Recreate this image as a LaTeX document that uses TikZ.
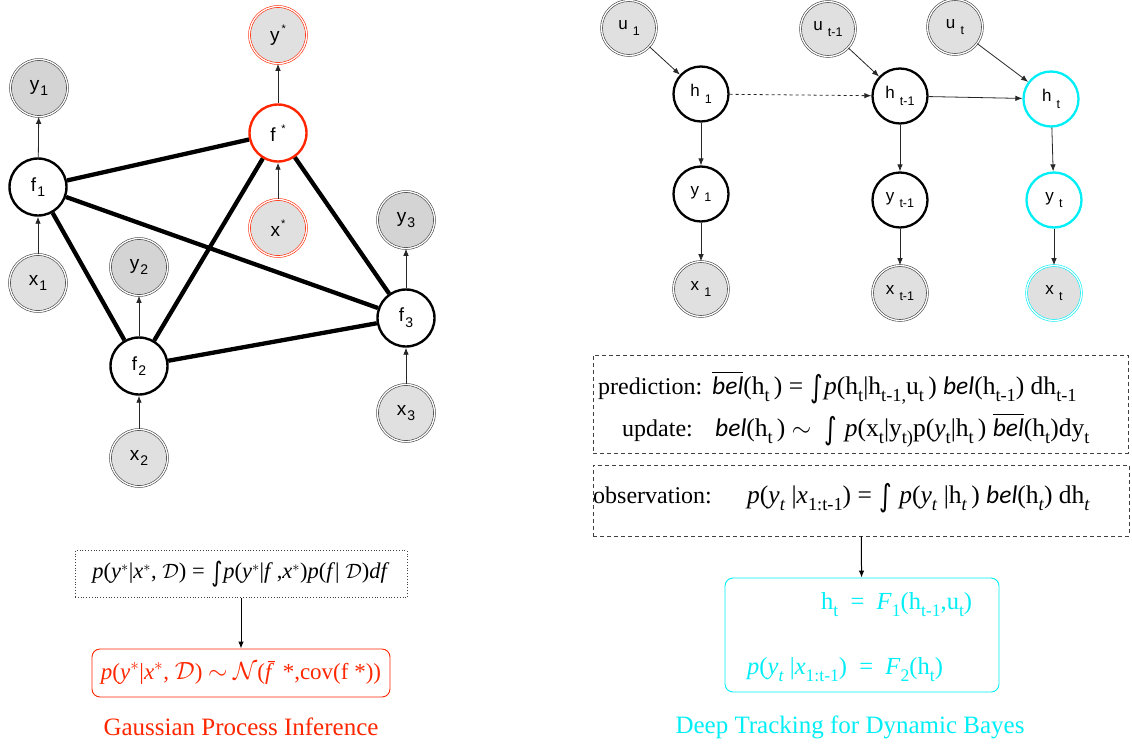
\documentclass[tikz,border=0pt]{standalone}
\usepackage{exscale}
\usepackage{fontspec}
\usepackage{graphicx}
\setmainfont{Liberation Serif}
\setsansfont{Liberation Sans}
\newfontfamily\belfont{Carlito}
\newfontfamily\intfont{DejaVu Sans}
\usetikzlibrary{arrows.meta}
\definecolor{gpred}{RGB}{255,38,0}
\definecolor{dcy}{RGB}{0,238,245}
\newcommand{\lL}[2]{#1\hspace{0.06em}\raisebox{-0.3em}{\fontsize{14}{14}\selectfont #2}}
\newcommand{\lR}[2]{#1\hspace{0.3em}\raisebox{-0.38em}{\fontsize{12.5}{12.5}\selectfont #2}}
\newcommand{\st}[2]{#1\hspace{#2}\raisebox{0.45em}{\fontsize{11}{11}\selectfont *}}
\newcommand{\sbs}[1]{\raisebox{-0.3em}{\scalebox{0.72}{#1}}}
\newcommand{\vi}[1]{\textit{#1}}
\newcommand{\bl}{{\belfont\itshape bel}}
\newcommand{\obl}{$\overline{\hbox{\belfont\itshape bel}}$}
\newcommand{\intg}{\hspace{0.04em}\raisebox{-0.12em}{\scalebox{0.95}[1.2]{\intfont ∫}}\hspace{0.04em}}
\begin{document}
\begin{tikzpicture}[x=1pt,y=-1pt,
  lab/.style={font=\sffamily\fontsize{19}{19}\selectfont},
  labr/.style={font=\sffamily\fontsize{17}{17}\selectfont},
  lat/.style={lab,circle,draw=black,line width=2.4pt,fill=white,minimum size=57pt,inner sep=0pt},
  obsx/.style={lab,circle,draw=black!75,double=white,double distance=1.3pt,line width=0.6pt,fill=gray!24,minimum size=57pt,inner sep=0pt},
  obsy/.style={obsx,fill=gray!34},
  redlat/.style={lat,draw=gpred},
  redobs/.style={obsx,draw=gpred},
  rlat/.style={labr,circle,draw=black,line width=2.3pt,fill=white,minimum size=55pt,inner sep=0pt},
  robs/.style={labr,circle,draw=black!75,double=white,double distance=1.3pt,line width=0.6pt,fill=gray!24,minimum size=55pt,inner sep=0pt},
  cylat/.style={rlat,draw=dcy},
  cyobs/.style={robs,draw=dcy},
  arr/.style={-{Latex[length=7pt,width=5.5pt]},line width=0.8pt,draw=black!85},
  edg/.style={line width=4.3pt},
  ftxt/.style={font=\rmfamily\fontsize{24}{24}\selectfont,inner sep=0pt,anchor=base west},
  fml/.style={ftxt,font=\rmfamily\fontsize{25.5}{25.5}\selectfont},
  dbox/.style={draw=black!75,dash pattern=on 4pt off 3pt,line width=0.8pt,inner sep=0pt},
]
\useasboundingbox (0,0) rectangle (1132,747);
% ---------- Gaussian process graph ----------
\node[obsy] (y1) at (39,88) {\lL{y}{1}};
\node[lat] (f1) at (38,187) {\lL{f}{1}};
\node[obsx] (x1) at (38,283) {\lL{x}{1}};
\node[obsy] (y2) at (139,267) {\lL{y}{2}};
\node[lat] (f2) at (139,366) {\lL{f}{2}};
\node[obsx] (x2) at (139,458) {\lL{x}{2}};
\node[redobs] (ys) at (278,35) {\st{y}{0.1em}};
\node[redlat] (fs) at (278,133) {\st{f}{0.3em}};
\node[redobs] (xs) at (278,228) {\st{x}{0.05em}};
\node[obsy] (y3) at (406,220) {\lL{y}{3}};
\node[lat] (f3) at (406,318) {\lL{f}{3}};
\node[obsx] (x3) at (406,413) {\lL{x}{3}};
\draw[edg] (f1) -- (fs);
\draw[edg] (f1) -- (f2);
\draw[edg] (f1) -- (f3);
\draw[edg] (f2) -- (fs);
\draw[edg] (f2) -- (f3);
\draw[edg] (fs) -- (f3);
\draw[arr] (x1) -- (f1);
\draw[arr] (f1) -- (y1);
\draw[arr] (x2) -- (f2);
\draw[arr] (f2) -- (y2);
\draw[arr] (xs) -- (fs);
\draw[arr] (fs) -- (ys);
\draw[arr] (x3) -- (f3);
\draw[arr] (f3) -- (y3);
% formulas left
\node[draw=black!75,dotted,line width=0.8pt,minimum width=332pt,minimum height=47pt,inner sep=0pt,
  font=\rmfamily\fontsize{22.5}{22.5}\selectfont] (gpf) at (241,574)
  {\vi{p}(\vi{y}$^*$|\vi{x}$^*$, $\mathcal{D}$) = \intg\vi{p}(\vi{y}$^*$|\vi{f}\,,\vi{x}$^*$)\vi{p}(\vi{f}| $\mathcal{D}$)\vi{df}};
\node[draw=gpred,rounded corners=8pt,line width=0.9pt,minimum width=298pt,minimum height=48pt,inner sep=0pt,
  text=gpred,font=\rmfamily\fontsize{23}{23}\selectfont] (gpr) at (241,673)
  {\vi{p}(\vi{y}$^*$|\vi{x}$^*$, $\mathcal{D}$) $\sim$ $\mathcal{N}$(\vi{\=f} *,cov(f *))};
\draw[arr,line width=1pt,draw=black] (gpf) -- (gpr);
\node[font=\rmfamily\fontsize{25}{25}\selectfont,text=gpred] (t1) at (241,727) {Gaussian Process Inference};
% ---------- Dynamic Bayes graph ----------
\node[robs] (u1) at (629,28) {\lR{u}{1}};
\node[rlat] (h1) at (701,94) {\lR{h}{1}};
\node[rlat] (yy1) at (701,194) {\lR{y}{1}};
\node[robs] (xx1) at (701,289) {\lR{x}{1}};
\node[robs] (ut1) at (828,29) {\lR{u}{t-1}};
\node[rlat] (ht1) at (900,96) {\lR{h}{t-1}};
\node[rlat] (yt1) at (900,200) {\lR{y}{t-1}};
\node[robs] (xt1) at (900,293) {\lR{x}{t-1}};
\node[robs] (ut) at (955,27) {\lR{u}{t}};
\node[cylat] (ht) at (1051,99) {\lR{h}{t}};
\node[cylat] (yt) at (1054,200) {\lR{y}{t}};
\node[cyobs] (xt) at (1054,293) {\lR{x}{t}};
\draw[arr] (u1) -- (h1);
\draw[arr] (h1) -- (yy1);
\draw[arr] (yy1) -- (xx1);
\draw[arr,dashed] (h1) -- (ht1);
\draw[arr] (ut1) -- (ht1);
\draw[arr] (ht1) -- (yt1);
\draw[arr] (yt1) -- (xt1);
\draw[arr] (ht1) -- (ht);
\draw[arr] (ut) -- (ht);
\draw[arr] (ht) -- (yt);
\draw[arr] (yt) -- (xt);
% boxes right
\node[dbox,minimum width=535pt,minimum height=98pt] (bx1) at (860.5,404) {};
\node[dbox,minimum width=536pt,minimum height=71pt] (bx2) at (861,500.5) {};
\node[ftxt] (p1) at (598,394) {prediction:};
\node[fml] (p2) at (712,394) {\obl(h\sbs{t}\,) = \intg\vi{p}(h\sbs{t}|h\sbs{t-1,}u\sbs{t}\,) \bl(h\sbs{t-1}) dh\sbs{t-1}};
\node[ftxt] (q1) at (622,436) {update:};
\node[fml] (q2) at (715,436) {\bl(h\sbs{t}\,) $\sim$\ \ \intg\ \vi{p}(x\sbs{t}|y\sbs{t)}p(\vi{y}\sbs{t}|h\sbs{t}\,) \obl(h\sbs{t})dy\sbs{t}};
\node[ftxt] (o1) at (593,503) {observation:};
\node[fml] (o2) at (747,503) {\vi{p}(\vi{y}\sbs{\vi{t}} |\vi{x}\sbs{1:t-1}) = \intg\ \vi{p}(\vi{y}\sbs{\vi{t}} |h\sbs{\vi{t}}\,) \bl(h\sbs{\vi{t}}) dh\sbs{\vi{t}}};
\node[draw=dcy,rounded corners=8pt,line width=0.9pt,minimum width=274pt,minimum height=114pt,inner sep=0pt] (cy) at (862,635) {};
\draw[arr,line width=1pt,draw=black] (bx2) -- (cy);
\node[ftxt,text=dcy,font=\rmfamily\fontsize{24.5}{24.5}\selectfont] (c1) at (821,609) {h\sbs{t}\hspace{0.5em}=\hspace{0.5em}\vi{F}\sbs{1}(h\sbs{t-1},u\sbs{t})};
\node[ftxt,text=dcy,font=\rmfamily\fontsize{24.5}{24.5}\selectfont] (c2) at (747,674) {\vi{p}(\vi{y}\sbs{\vi{t}} |\vi{x}\sbs{1:t-1})\ \ =\ \ \vi{F}\sbs{2}(h\sbs{t})};
\node[font=\rmfamily\fontsize{25}{25}\selectfont,text=dcy] (t2) at (850,727) {Deep Tracking for Dynamic Bayes};
\end{tikzpicture}
\end{document}
